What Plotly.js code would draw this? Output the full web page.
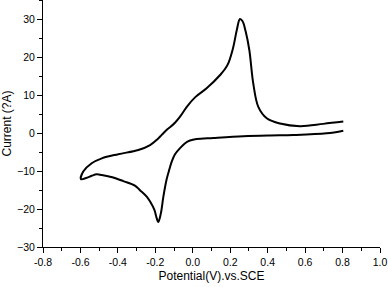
<!DOCTYPE html>
<html><head><meta charset="utf-8">
<script src="https://cdn.plot.ly/plotly-3.0.1.min.js"></script>
<style>html,body{margin:0;padding:0;background:#fff}#chart{width:388px;height:287px}</style>
</head><body><div id="chart"></div>
<script>
// Cyclic voltammogram: reverse (cathodic) branch from 0.8 V down to -0.6 V, then forward (anodic) branch back to 0.8 V
const potential = [0.804,0.715,0.537,0.413,0.270,0.110,0.020,-0.015,-0.041,-0.068,-0.095,-0.112,-0.125,-0.139,-0.157,-0.170,-0.184,-0.195,-0.205,-0.228,-0.246,-0.282,-0.309,-0.371,-0.430,-0.486,-0.513,-0.540,-0.570,-0.597,
                   -0.585,-0.540,-0.486,-0.398,-0.291,-0.228,-0.190,-0.166,-0.140,-0.122,-0.095,-0.068,-0.032,0.012,0.074,0.146,0.185,0.215,0.236,0.252,0.266,0.282,0.302,0.323,0.350,0.395,0.466,0.573,0.697,0.804];
const current = [0.7,0.0,-0.45,-0.55,-0.75,-1.2,-1.5,-1.9,-2.6,-3.9,-5.5,-7.4,-9.5,-12.0,-16.7,-21.0,-23.4,-22.0,-20.2,-18.0,-16.7,-15.0,-13.8,-12.6,-11.6,-11.0,-10.8,-11.2,-11.8,-12.1,
                 -10.1,-7.9,-6.6,-5.5,-4.4,-3.1,-1.6,-0.4,0.9,1.6,2.8,4.4,7.0,9.5,11.9,15.4,18.0,22.5,27.5,30.2,29.6,27.0,22.0,13.2,7.0,4.0,2.6,1.9,2.5,3.1];
const xTicks = [-0.8,-0.6,-0.4,-0.2,0.0,0.2,0.4,0.6,0.8,1.0];
const xTickText = ['-0.8','-0.6','-0.4','-0.2','0.0','0.2','0.4','0.6','0.8','1.0'];
const yTicks = [-30,-20,-10,0,10,20,30];

const font = 'Liberation Sans, Arial, sans-serif';
Plotly.newPlot('chart', [{
  x: potential, y: current, type: 'scatter', mode: 'lines',
  line: {color: '#000', width: 2, shape: 'spline', smoothing: 1}
}], {
  width: 388, height: 287,
  margin: {l: 43, r: 8, t: 0, b: 40},
  paper_bgcolor: '#fff', plot_bgcolor: '#fff',
  showlegend: false,
  font: {family: font, color: '#000', size: 10},
  xaxis: {
    range: [-0.8, 1.0], tickvals: xTicks, ticktext: xTickText,
    showgrid: false, zeroline: false, showline: true, linecolor: '#000', linewidth: 1,
    ticks: 'outside', ticklen: 5, tickcolor: '#000', tickwidth: 1,
    minor: {dtick: 0.1, tick0: -0.8, ticks: 'outside', ticklen: 3, tickcolor: '#000', showgrid: false},
    tickfont: {size: 10.5, family: font},
    title: {text: 'Potential(V).vs.SCE', font: {size: 12, family: font}, standoff: 5}
  },
  yaxis: {
    range: [-30, 35.2], tickvals: yTicks,
    showgrid: false, zeroline: false, showline: true, linecolor: '#000', linewidth: 1,
    ticks: 'outside', ticklen: 5, tickcolor: '#000', tickwidth: 1,
    minor: {dtick: 5, tick0: -30, ticks: 'outside', ticklen: 3, tickcolor: '#000', showgrid: false},
    tickfont: {size: 10.5, family: font},
    title: {text: 'Current (?A)', font: {size: 12, family: font}, standoff: 6}
  }
}, {displayModeBar: false, staticPlot: true});
</script></body></html>
